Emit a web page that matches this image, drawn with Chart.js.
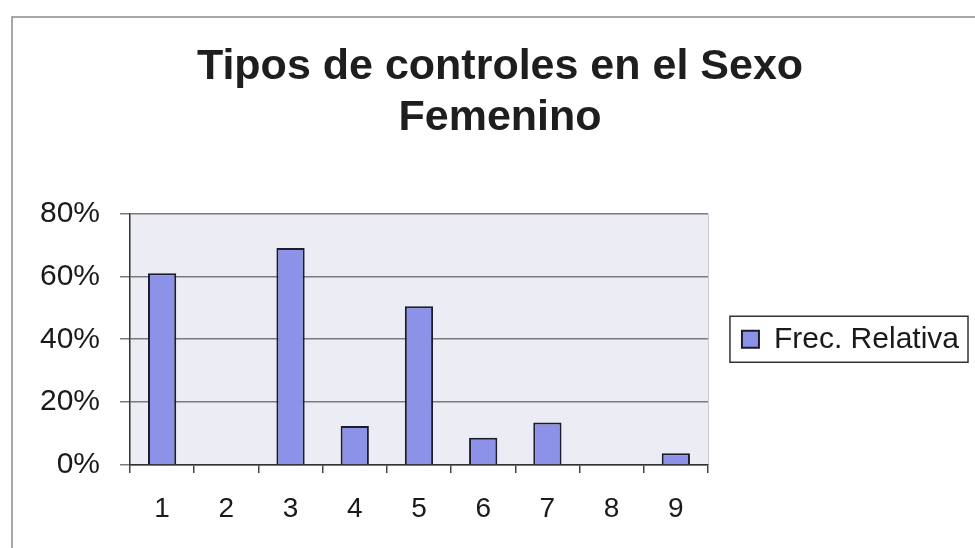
<!DOCTYPE html>
<html>
<head>
<meta charset="utf-8">
<script src="https://cdn.jsdelivr.net/npm/chart.js@4.4.0/dist/chart.umd.min.js"></script>
<style>
  html,body{margin:0;padding:0;background:#fff;}
  #wrap{width:975px;height:548px;position:relative;}
</style>
</head>
<body>
<div id="wrap"><canvas id="c" width="975" height="548"></canvas></div>
<script>
const categories = ['1','2','3','4','5','6','7','8','9'];
const frecRelativa = [61, 0, 69, 12.4, 50.5, 8.7, 13.5, 0, 3.7];
const yTicks = [0, 20, 40, 60, 80];
const titleLines = ['Tipos de controles en el Sexo', 'Femenino'];
const seriesName = 'Frec. Relativa';

const FONT = "'Liberation Sans', Arial, sans-serif";
const LEGEND_FONT_SIZE = 30;

const frame = {
  id: 'frame',
  beforeDraw(chart) {
    const {ctx, chartArea: a} = chart;
    ctx.save();
    ctx.fillStyle = '#ececf4';
    ctx.fillRect(a.left, a.top, a.right - a.left, a.bottom - a.top);
    ctx.strokeStyle = '#c8c8d0';
    ctx.lineWidth = 1;
    ctx.beginPath();
    ctx.moveTo(a.right + 0.5, a.top);
    ctx.lineTo(a.right + 0.5, a.bottom);
    ctx.stroke();
    // outer chart border (top & left)
    ctx.strokeStyle = '#8a8a8a';
    ctx.lineWidth = 1.5;
    ctx.beginPath();
    ctx.moveTo(975, 17);
    ctx.lineTo(12, 17);
    ctx.lineTo(12, 548);
    ctx.stroke();
    ctx.restore();
  },
  afterDraw(chart) {
    const lg = chart.legend;
    if (!lg || !lg.legendHitBoxes || !lg.legendHitBoxes.length) return;
    const h = lg.legendHitBoxes[0];
    const cy = h.top + h.height / 2;
    const ctx = chart.ctx;
    ctx.save();
    ctx.font = LEGEND_FONT_SIZE + 'px ' + FONT;
    const tw = ctx.measureText(lg.legendItems[0].text).width;
    const left = h.left - 12;
    const right = h.left + 17 + LEGEND_FONT_SIZE / 2 + tw + 9;
    ctx.strokeStyle = '#333';
    ctx.lineWidth = 1.5;
    ctx.strokeRect(left, cy - 23, right - left, 46);
    ctx.restore();
  }
};

new Chart(document.getElementById('c'), {
  type: 'bar',
  data: {
    labels: categories,
    datasets: [{
      label: seriesName,
      data: frecRelativa,
      backgroundColor: '#8b92e8',
      borderColor: '#1c1c2c',
      borderWidth: 2,
      barPercentage: 0.44,
      categoryPercentage: 1.0
    }]
  },
  options: {
    responsive: false,
    animation: false,
    devicePixelRatio: 1,
    layout: { padding: { top: 20, left: 31, right: 6, bottom: 0 } },
    plugins: {
      tooltip: { enabled: false },
      title: {
        display: true,
        text: titleLines,
        color: '#1e1e1e',
        font: { family: FONT, size: 43, weight: 'bold', lineHeight: 1.18 },
        padding: { top: 22, bottom: 70 }
      },
      legend: {
        display: true,
        position: 'right',
        fullSize: false,
        maxWidth: 320,
        labels: {
          color: '#1a1a1a',
          font: { family: FONT, size: LEGEND_FONT_SIZE },
          boxWidth: 17,
          boxHeight: 17,
          padding: 34
        }
      }
    },
    scales: {
      x: {
        offset: true,
        afterFit(s) { s.height = 83; },
        grid: {
          offset: true,
          drawOnChartArea: false,
          drawTicks: true,
          tickLength: 8,
          color: '#444',
          lineWidth: 1.5
        },
        border: { display: true, color: '#333', width: 1.5 },
        ticks: {
          color: '#1a1a1a',
          font: { family: FONT, size: 28 },
          padding: 19,
          maxRotation: 0
        }
      },
      y: {
        min: 0,
        max: 80,
        afterFit(s) { s.width = 99; },
        afterBuildTicks(s) { s.ticks = yTicks.map(v => ({ value: v })); },
        grid: {
          color: '#7a7a7a',
          lineWidth: 1.5,
          tickLength: 10,
          drawTicks: true
        },
        border: { display: true, color: '#333', width: 1.5 },
        ticks: {
          color: '#1a1a1a',
          font: { family: FONT, size: 30 },
          padding: 20,
          callback: v => v + '%'
        }
      }
    }
  },
  plugins: [frame]
});
</script>
</body>
</html>
